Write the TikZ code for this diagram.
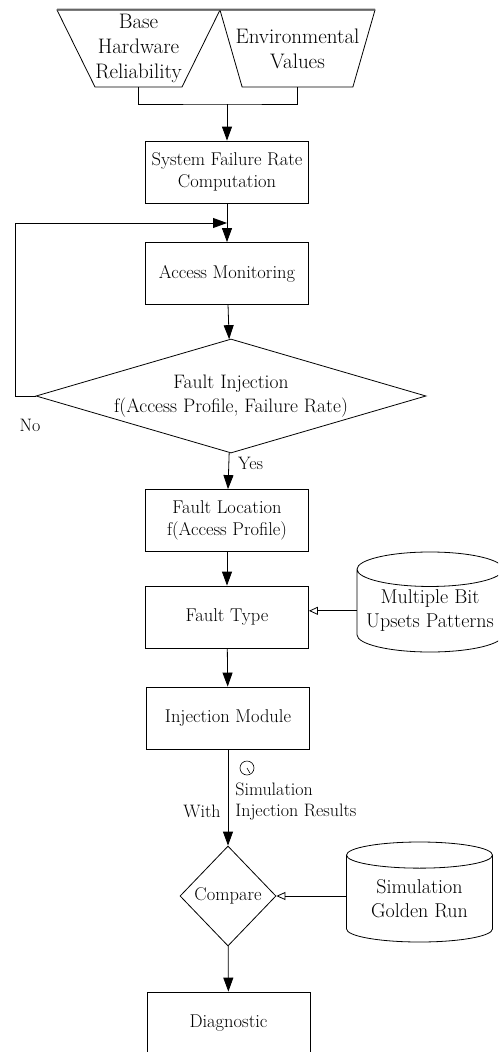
\documentclass[tikz,border=0pt]{standalone}
\usepackage{tikz}
\usetikzlibrary{shapes.geometric,arrows.meta}

\tikzset{
    every node/.style={font=\fontsize{18.5}{22}\selectfont},
    proc/.style={draw, align=center, inner sep=0pt, minimum width=163pt, minimum height=62pt},
    inp/.style={draw, trapezium, trapezium stretches body=true, shape border rotate=180,
        trapezium left angle=61, trapezium right angle=61, minimum height=77pt,
        inner xsep=-32pt, inner ysep=0pt, align=center, font=\fontsize{21}{25}\selectfont},
    decide/.style={draw, diamond, inner sep=0pt, align=center},
    store/.style={draw, cylinder, shape border rotate=90, aspect=0.27, inner sep=0pt,
        minimum width=146pt, minimum height=100pt, align=center, anchor=shape center,
        font=\fontsize{20}{24}\selectfont},
    flow/.style={-{Triangle[length=14pt,width=10pt]}},
    feed/.style={-{Triangle[open,length=9pt,width=8pt]}},
    lbl/.style={font=\fontsize{18}{21}\selectfont, inner sep=0pt}
}

\begin{document}
\begin{tikzpicture}[x=1pt, y=-1pt, line width=0.8pt]
        \useasboundingbox (0,0) rectangle (498,1052);
        \clip (0,0) rectangle (498,1052);

        \node [inp, minimum width=163pt] (hw) at (138.5,48.5) {Base\\Hardware\\Reliability};
        \node [inp, minimum width=155pt] (env) at (297.5,48.5) {Environmental\\Values};
        \draw [line width=2pt, black!60] ([xshift=-81.5pt]hw.north) -- ([xshift=77.5pt]env.north);

        \node [proc] (rate) at (227,172) {System Failure Rate\\Computation};
        \node [proc] (mon) at (227,273.5) {Access Monitoring};
        \node [decide, shape aspect=3.4, minimum width=390pt, minimum height=114pt,
            font=\fontsize{19.5}{24}\selectfont] (inj) at (231,396)
            {Fault Injection\\f(Access Profile, Failure Rate)};
        \node [proc] (loc) at (227,520.5) {Fault Location\\f(Access Profile)};
        \node [proc] (type) at (227,617) {Fault Type};
        \node [proc] (mod) at (228,718) {Injection Module};
        \node [decide, minimum width=96pt, minimum height=100pt] (cmp) at (228,896) {Compare};
        \node [proc] (diag) at (228.5,1023) {Diagnostic};

        \node [store] (mbu) at (430,602) {Multiple Bit\\Upsets Patterns};
        \node [store] (gold) at (419.5,892) {Simulation\\Golden Run};

        \coordinate (merge) at (227,104);
        \coordinate (join) at (227,223);

        \draw (hw.south) |- (merge) -| (env.south);
        \draw [flow] (merge) -- (rate);
        \draw [flow] (rate) -- (mon);
        \draw [flow] (mon) -- (inj);
        \draw [flow] (inj.west) -- ++(-20,0) |- (join);
        \node [lbl] (no) at (30,425) {No};
        \draw [flow] (inj) -- node [lbl, right, pos=0.3, xshift=9pt] (yes) {Yes} (loc);
        \draw [flow] (loc) -- (type);
        \draw [feed] (mbu.west) -- (mbu.west -| type.east);
        \draw [flow] (type) -- (mod);
        \draw [flow] (mod) -- (cmp);
        \draw [feed] (gold.west |- cmp.east) -- (cmp.east);
        \draw [flow] (cmp) -- (diag);

        \node [draw, circle, minimum size=14pt, inner sep=0pt, line width=0.6pt] (clock) at (247,768) {};
        \draw [line width=0.6pt] (clock.center) -- ++(60:5.5);
        \node [lbl, anchor=north west, align=left] (simres) at (235,783) {Simulation\\Injection Results};
        \node [lbl, anchor=east] (with) at (221,811) {With};
    \end{tikzpicture}
\end{document}
